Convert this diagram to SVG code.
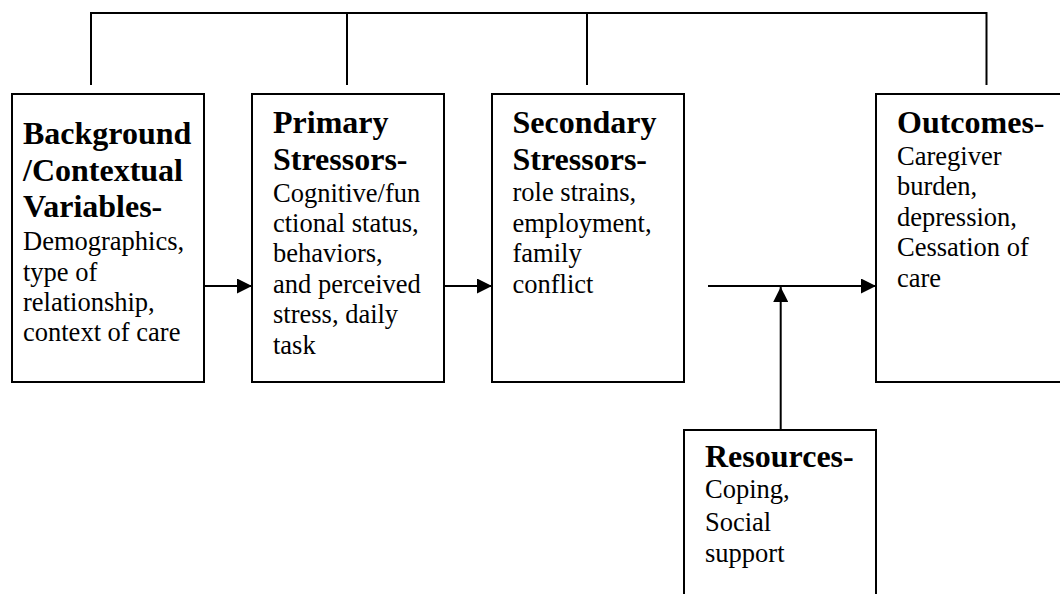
<svg xmlns="http://www.w3.org/2000/svg" width="1060" height="594" viewBox="0 0 1060 594">
<style>
.box{fill:#fff;stroke:#000;stroke-width:2}
.ln{fill:none;stroke:#000;stroke-width:2}
text{font-family:"Liberation Serif","Times New Roman",serif;fill:#000}
.b{font-weight:bold;font-size:32px}
.r{font-size:26.5px}
</style>
<defs>
<marker id="ah" viewBox="0 0 15 15" refX="15" refY="7.5" markerWidth="15" markerHeight="15" markerUnits="userSpaceOnUse" orient="auto">
<path d="M0,0 L15,7.5 L0,15 Z" fill="#000"/>
</marker>
</defs>
<rect width="1060" height="594" fill="#fff"/>
<g id="connectors">
<path class="ln" d="M91,85 V13 H986.5 V85 M347,13 V85 M587,13 V85"/>
<line class="ln" x1="204" y1="286" x2="252" y2="286" marker-end="url(#ah)"/>
<line class="ln" x1="444" y1="286" x2="492" y2="286" marker-end="url(#ah)"/>
<line class="ln" x1="708" y1="286" x2="876" y2="286" marker-end="url(#ah)"/>
<line class="ln" x1="780.7" y1="430" x2="780.7" y2="287" marker-end="url(#ah)"/>
</g>
<g id="background">
<rect class="box" x="12" y="94" width="192" height="288"/>
<text class="b" x="23" y="144">Background</text>
<text class="b" x="23" y="181">/Contextual</text>
<text class="b" x="23" y="217">Variables-</text>
<text class="r" x="23" y="250">Demographics,</text>
<text class="r" x="23" y="281">type of</text>
<text class="r" x="23" y="311">relationship,</text>
<text class="r" x="23" y="341">context of care</text>
</g>
<g id="primary">
<rect class="box" x="252" y="94" width="192" height="288"/>
<text class="b" x="273" y="133">Primary</text>
<text class="b" x="273" y="170">Stressors-</text>
<text class="r" x="273" y="202">Cognitive/fun</text>
<text class="r" x="273" y="232">ctional status,</text>
<text class="r" x="273" y="262">behaviors,</text>
<text class="r" x="273" y="293">and perceived</text>
<text class="r" x="273" y="323">stress, daily</text>
<text class="r" x="273" y="354">task</text>
</g>
<g id="secondary">
<rect class="box" x="492" y="94" width="192" height="288"/>
<text class="b" x="512.5" y="133">Secondary</text>
<text class="b" x="512.5" y="170">Stressors-</text>
<text class="r" x="512.5" y="201">role strains,</text>
<text class="r" x="512.5" y="232">employment,</text>
<text class="r" x="512.5" y="262">family</text>
<text class="r" x="512.5" y="293">conflict</text>
</g>
<g id="outcomes">
<rect class="box" x="876" y="94" width="200" height="288"/>
<text class="b" x="897" y="133">Outcomes<tspan font-weight="normal">-</tspan></text>
<text class="r" x="897" y="165">Caregiver</text>
<text class="r" x="897" y="195">burden,</text>
<text class="r" x="897" y="226">depression,</text>
<text class="r" x="897" y="256">Cessation of</text>
<text class="r" x="897" y="287">care</text>
</g>
<g id="resources">
<rect class="box" x="684" y="430" width="192" height="190"/>
<text class="b" x="705" y="467">Resources-</text>
<text class="r" x="705" y="498">Coping,</text>
<text class="r" x="705" y="531">Social</text>
<text class="r" x="705" y="562">support</text>
</g>
</svg>
